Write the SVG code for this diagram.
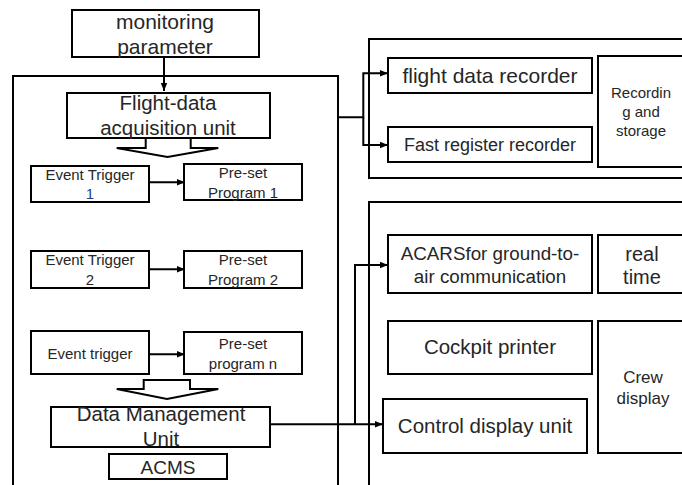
<svg xmlns="http://www.w3.org/2000/svg" width="682" height="485" viewBox="0 0 682 485">
<defs>
<style>
.b{fill:#fff;stroke:#000;stroke-width:2}
.c{fill:none;stroke:#000;stroke-width:2}
text{font-family:"Liberation Sans",Arial,sans-serif;fill:#262626;text-anchor:middle}
</style>
<marker id="ah" viewBox="0 0 10 10" refX="10" refY="5" markerWidth="8" markerHeight="8" markerUnits="userSpaceOnUse" orient="auto">
<path d="M0,1 L10,5 L0,9 Z" fill="#000"/>
</marker>
</defs>
<rect width="682" height="485" fill="#fff"/>

<g id="outer-acms"><rect class="b" x="13" y="76" width="325" height="412"/></g>
<g id="panel-recording"><rect class="b" x="369" y="39" width="320" height="139"/></g>
<g id="panel-crew"><rect class="b" x="369" y="202" width="320" height="290"/></g>

<g id="monitoring"><rect class="b" x="72" y="10" width="187" height="47"/>
<text x="165" y="29" font-size="21">monitoring</text><text x="165" y="54" font-size="21">parameter</text></g>

<g id="fdau"><rect class="b" x="67" y="93" width="203" height="45"/>
<text x="168" y="110" font-size="20.5">Flight-data</text><text x="168" y="135" font-size="20.5">acquisition unit</text></g>

<g id="hollow1"><polygon class="b" points="145.7,138 190.7,138 190.7,148 218.3,148 167.5,157 116.7,148 145.7,148"/></g>

<g id="trigger1"><rect class="b" x="31" y="166" width="118" height="36"/>
<text x="90" y="180" font-size="15">Event Trigger</text><text x="90" y="199" font-size="15" fill="#1f3f8f" style="fill:#1f3f8f">1</text></g>
<g id="program1"><rect class="b" x="184" y="164" width="118" height="36"/>
<text x="243" y="178" font-size="15">Pre-set</text><text x="243" y="198" font-size="15">Program 1</text></g>

<g id="trigger2"><rect class="b" x="31" y="251" width="118" height="37"/>
<text x="90" y="265" font-size="15">Event Trigger</text><text x="90" y="285" font-size="15">2</text></g>
<g id="program2"><rect class="b" x="184" y="251" width="118" height="37"/>
<text x="243" y="265" font-size="15">Pre-set</text><text x="243" y="285" font-size="15">Program 2</text></g>

<g id="triggern"><rect class="b" x="31" y="331" width="118" height="43"/>
<text x="90" y="358.5" font-size="15">Event trigger</text></g>
<g id="programn"><rect class="b" x="184" y="332" width="118" height="42"/>
<text x="243" y="348.5" font-size="15">Pre-set</text><text x="243" y="368.5" font-size="15">program n</text></g>

<g id="hollow2"><polygon class="b" points="143.7,380 190,380 190,389 218.3,389 167,399 116.7,389 143.7,389"/></g>

<g id="dmu"><rect class="b" x="51" y="407" width="219" height="40"/>
<text x="161" y="421" font-size="20.5">Data Management</text><text x="161" y="446" font-size="20.5">Unit</text></g>

<g id="acms"><rect class="b" x="109" y="454" width="118" height="25"/>
<text x="168" y="473.5" font-size="19">ACMS</text></g>

<g id="fdr"><rect class="b" x="388" y="58" width="204" height="35"/>
<text x="490" y="82.5" font-size="21">flight data recorder</text></g>
<g id="frr"><rect class="b" x="388" y="127" width="204" height="35"/>
<text x="490" y="150.5" font-size="18">Fast register recorder</text></g>
<g id="recording"><rect class="b" x="598" y="56" width="90" height="111"/>
<text x="641" y="98" font-size="15">Recordin</text><text x="641" y="117" font-size="15">g and</text><text x="641" y="135.5" font-size="15">storage</text></g>

<g id="acars"><rect class="b" x="388" y="235" width="204" height="58"/>
<text x="490" y="260" font-size="18.8">ACARSfor ground-to-</text><text x="490" y="283" font-size="18.8">air communication</text></g>
<g id="realtime"><rect class="b" x="598" y="235" width="90" height="58"/>
<text x="642" y="260.5" font-size="20">real</text><text x="642" y="284" font-size="20">time</text></g>
<g id="printer"><rect class="b" x="388" y="321" width="204" height="53"/>
<text x="490" y="354" font-size="20.5">Cockpit printer</text></g>
<g id="cdu"><rect class="b" x="383" y="399" width="204" height="54"/>
<text x="485" y="433" font-size="20.5">Control display unit</text></g>
<g id="crew"><rect class="b" x="598" y="321" width="90" height="132"/>
<text x="643" y="382.5" font-size="17">Crew</text><text x="643" y="403.5" font-size="17">display</text></g>

<g id="connectors">
<path class="c" d="M164,57 V91" marker-end="url(#ah)"/>
<path class="c" d="M149,182.3 H185" marker-end="url(#ah)"/>
<path class="c" d="M149,269.3 H185" marker-end="url(#ah)"/>
<path class="c" d="M149,354.3 H185" marker-end="url(#ah)"/>
<path class="c" d="M338,117.3 H363.3 V73.3 H388" marker-end="url(#ah)"/>
<path class="c" d="M363.3,117.3 V145 H388" marker-end="url(#ah)"/>
<path class="c" d="M270,424.3 H383" marker-end="url(#ah)"/>
<path class="c" d="M355,424.3 V265 H388" marker-end="url(#ah)"/>
</g>
</svg>
